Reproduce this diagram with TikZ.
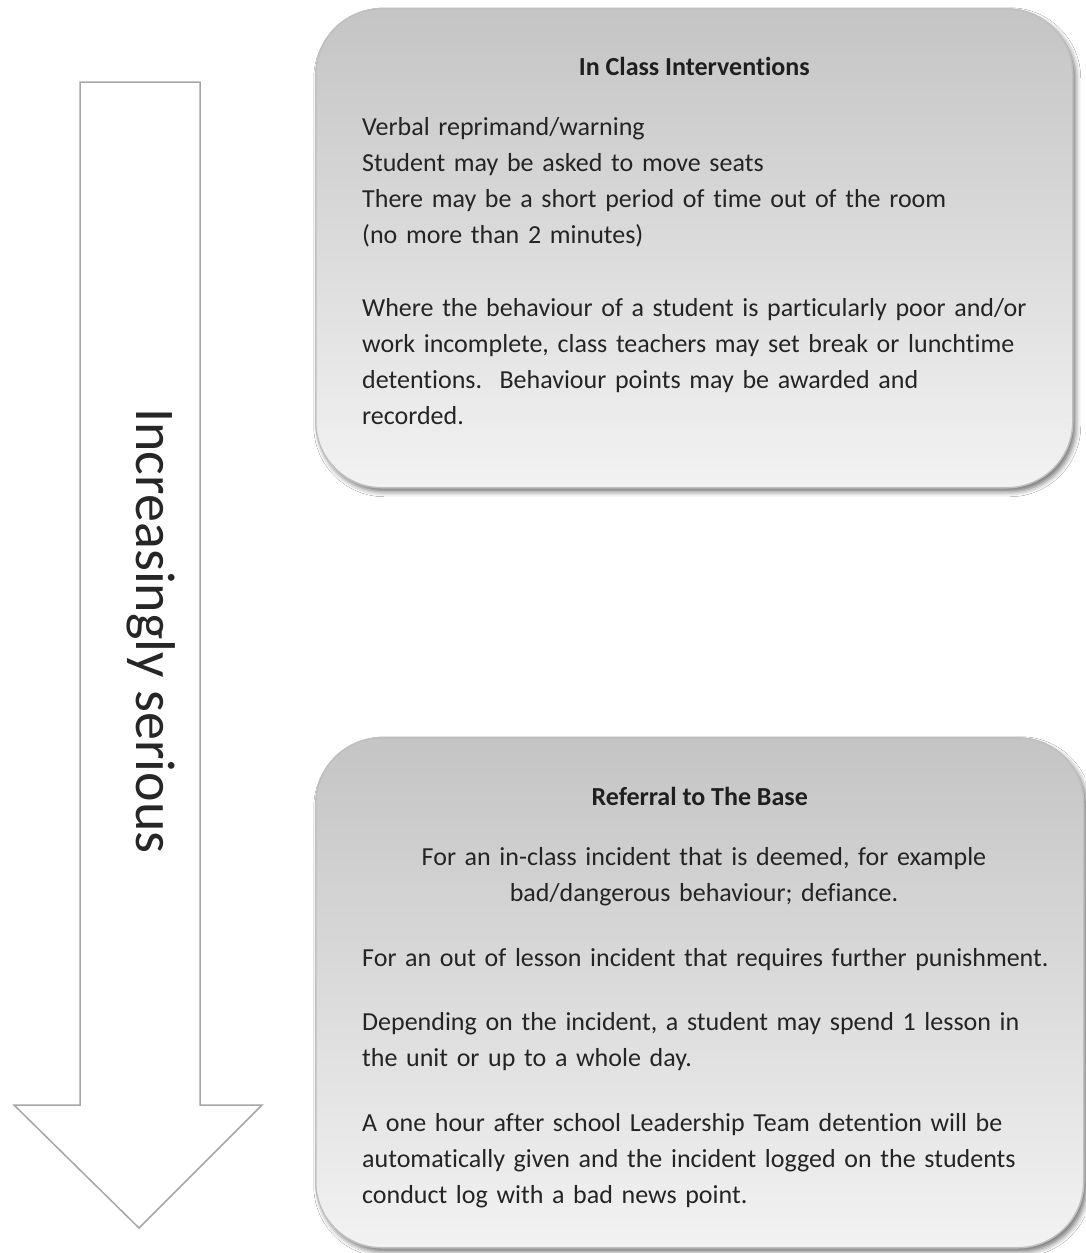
\documentclass[tikz,border=0pt]{standalone}
\usepackage{fontspec}
\setmainfont{Carlito}[Ligatures=NoCommon]
\usetikzlibrary{shadows.blur}

\begin{document}
\begin{tikzpicture}[x=1pt, y=-1pt,
    panel/.style={rectangle, rounded corners=66pt, draw=black!25, line width=1.5pt,
      top color=black!23, bottom color=black!5,
      blur shadow={shadow xshift=3pt, shadow yshift=-4pt, shadow blur radius=5pt, shadow opacity=55}},
    head/.style={font=\fontsize{26}{36}\selectfont\bfseries, text=black!88, inner sep=0pt},
    body/.style={font=\fontsize{26}{36}\selectfont, text=black!86, inner sep=0pt,
      text width=720pt, align=left, anchor=base west},
    cbody/.style={body, align=center, anchor=base}]
  \useasboundingbox[fill=white] (0,0) rectangle (1085,1253);

  % big downward arrow
  \draw[black!35, line width=1.5pt, fill=white]
    (80,82) -- (200,82) -- (200,1105) -- (262,1105) -- (139,1228)
    -- (14,1105) -- (80,1105) -- cycle;
  \node[font=\fontsize{56}{64}\selectfont, text=black!85, rotate=-90, anchor=base, inner sep=0pt]
    (trend) at (136,631) {Increasingly serious};

  % first stage
  \node[panel, minimum width=757pt, minimum height=479pt, anchor=north west] (inclass) at (315,8) {};
  \node[head] (inclasshead) at (inclass.center |- 0,66) {In Class Interventions};
  \node[body] (inclasslist) at (362,135) {Verbal reprimand/warning\\
    Student may be asked to move seats\\
    There may be a short period of time out of the room\\
    (no more than 2 minutes)};
  \node[body] (inclassnote) at (362,316) {Where the behaviour of a student is particularly poor and/or\\
    work incomplete, class teachers may set break or lunchtime\\
    detentions.\ \ Behaviour points may be awarded and\\
    recorded.};

  % second stage
  \node[panel, minimum width=768pt, minimum height=510pt, anchor=north west] (base) at (315,737) {};
  \node[head] (basehead) at (base.center |- 0,796) {Referral to The Base};
  \node[cbody, text width=700pt] (baseclass) at (704,865) {For an in-class incident that is deemed, for example\\
    bad/dangerous behaviour; defiance.};
  \node[body] (baseout) at (362,966) {For an out of lesson incident that requires further punishment.};
  \node[body] (basestay) at (362,1030) {Depending on the incident, a student may spend 1 lesson in\\
    the unit or up to a whole day.};
  \node[body] (basedet) at (362,1131) {A one hour after school Leadership Team detention will be\\
    automatically given and the incident logged on the students\\
    conduct log with a bad news point.};
\end{tikzpicture}
\end{document}
